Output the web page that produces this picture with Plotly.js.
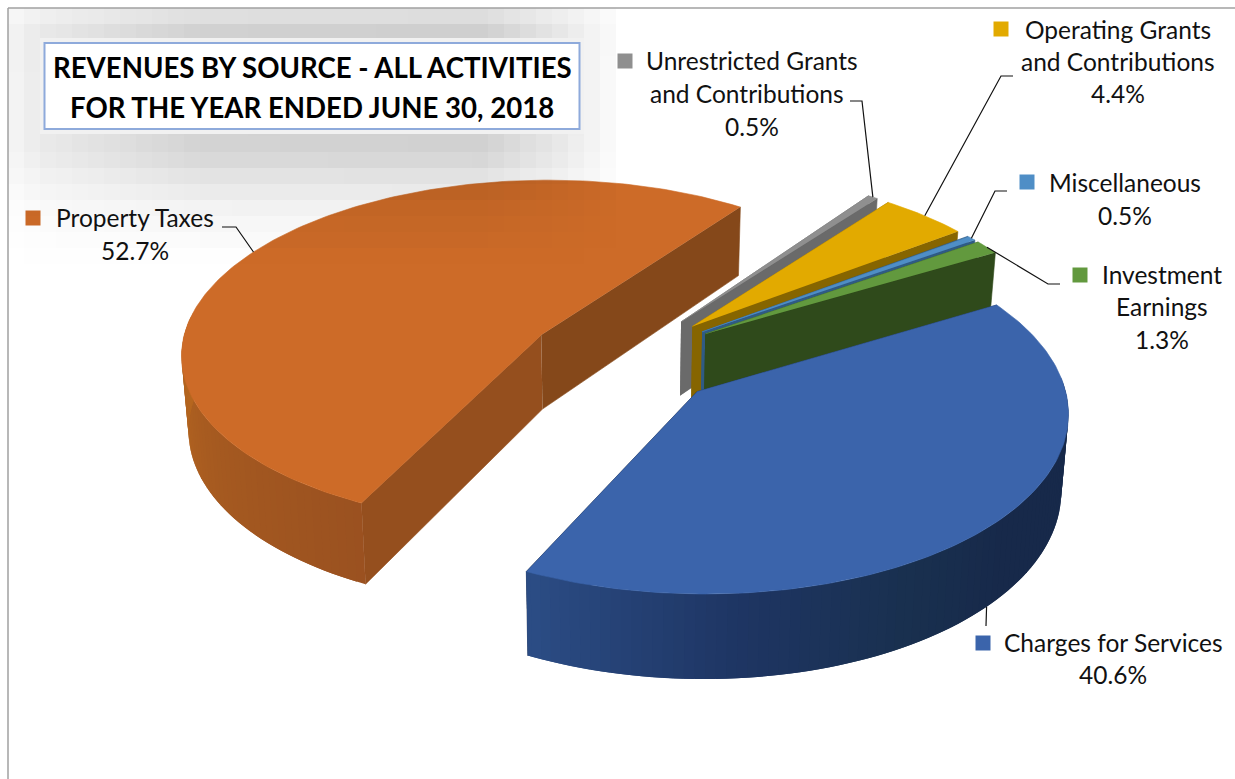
<!DOCTYPE html>
<html>
<head>
<meta charset="utf-8">
<script src="https://cdn.plot.ly/plotly-3.0.1.min.js"></script>
<style>html,body{margin:0;padding:0;background:#fff}#chart{width:1235px;height:779px}</style>
</head>
<body>
<div id="chart"></div>
<script>
// Revenue shares, clockwise from the start of the Property Taxes slice
const categories = ['Property Taxes', 'Unrestricted Grants and Contributions', 'Operating Grants and Contributions',
                    'Miscellaneous', 'Investment Earnings', 'Charges for Services'];
const shares = [52.7, 0.5, 4.4, 0.5, 1.3, 40.6];
const topColors = ['#cd6b28', '#8f8f8f', '#e2aa00', '#4f8ec6', '#62993e', '#3b64ab'];
const wallColors = ['#85481a', '#6a6a6a', '#866500', '#2f5b85', '#2f4a1b', '#17294a'];
const startWallColors = ['#954f1e', '#6a6a6a', '#866500', '#2f5b85', '#2f4a1b', '#17294a'];
// Rim shading stops: [clockwise angle, colour]
const rimShades = [
  [[205, '#9a5120'], [240, '#a65a20'], [270, '#b5661f'], [300, '#b5661f']],
  null, null, null, null,
  [[60, '#17294a'], [130, '#17294a'], [150, '#19304f'], [175, '#1e3563'], [205, '#2b4c84']]
];

// Projection of the tilted disc
const view = {cx: 624, cy: 359, a: 362, b: 175, p: 0.1, explode: 0.27, depth: 75, squeeze: 0.016, midX: 620};
const startAngle = 206;

function project(u, v, lowered) {
  const k = 1 + view.p * v;
  let x = view.cx + view.a * u / k;
  let y = view.cy - view.b * v / k;
  if (lowered) {
    y += view.depth / k;
    x -= (x - view.midX) * view.squeeze;
  }
  return [x, y];
}
const rad = d => d * Math.PI / 180;

function hexToRgb(h) { return [1, 3, 5].map(i => parseInt(h.substr(i, 2), 16)); }
function shadeAt(stops, ang) {
  if (ang <= stops[0][0]) return stops[0][1];
  for (let i = 1; i < stops.length; i++) {
    if (ang <= stops[i][0]) {
      const t = (ang - stops[i-1][0]) / (stops[i][0] - stops[i-1][0]);
      const A = hexToRgb(stops[i-1][1]), B = hexToRgb(stops[i][1]);
      return 'rgb(' + A.map((c, j) => Math.round(c + (B[j] - c) * t)).join(',') + ')';
    }
  }
  return stops[stops.length - 1][1];
}

const traces = [];
function poly(points, color, width) {
  traces.push({
    type: 'scatter', mode: 'lines', fill: 'toself', fillcolor: color,
    x: points.map(p => p[0]), y: points.map(p => p[1]),
    line: {color: color, width: width === undefined ? 0.6 : width}, hoverinfo: 'skip', showlegend: false
  });
}

const anchors = [];
let angle = startAngle;
shares.forEach((share, i) => {
  const span = share / 100 * 360, from = angle, to = angle + span, mid = (from + to) / 2;
  angle = to;
  const ou = view.explode * Math.sin(rad(mid)), ov = view.explode * Math.cos(rad(mid));
  const rim = (deg, low) => project(ou + Math.sin(rad(deg)), ov + Math.cos(rad(deg)), low);
  const apex = low => project(ou, ov, low);

  // the two radial walls
  poly([apex(false), rim(from, false), rim(from, true), apex(true)], startWallColors[i]);
  poly([apex(false), rim(to, false), rim(to, true), apex(true)], wallColors[i]);

  // outer wall: only the viewer-facing arc, in overlapping bands carrying a gradient
  const stops = rimShades[i];
  if (stops) {
    const step = 1.5;
    for (let d = from; d < to - 1e-6; d += step) {
      const a = d % 360;
      if (a < 85 || a > 275) continue;
      const e = Math.min(d + 2 * step, to);
      poly([rim(d, false), rim(e, false), rim(e, true), rim(d, true)], shadeAt(stops, a + step / 2), 0);
    }
  }

  // top face
  const face = [apex(false)];
  for (let d = from; d <= to + 1e-6; d += Math.min(1, span / 8)) face.push(rim(d, false));
  face.push(rim(to, false));
  poly(face, topColors[i]);

  anchors.push({top: rim(mid, false), low: rim(mid, true)});
});

// Label placement: text lines, line centre, key square and leader bends
const labels = [
  {lines: ['Property Taxes', '52.7%'], cx: [135, 135], y: [217, 250], key: [33, 218], bends: [[236, 227], [222, 227]], anchor: 'top'},
  {lines: ['Unrestricted Grants', 'and Contributions', '0.5%'], cx: [752, 747, 752], y: [60, 93, 126], key: [625, 61], bends: [[862, 101], [850, 101]], anchor: 'top'},
  {lines: ['Operating Grants', 'and Contributions', '4.4%'], cx: [1118, 1118, 1118], y: [29, 61, 93], key: [1001, 29], bends: [[1001, 76], [1013, 76]], anchor: 'top'},
  {lines: ['Miscellaneous', '0.5%'], cx: [1125, 1125], y: [182, 215], key: [1027, 182], bends: [[995, 191], [1007, 191]], anchor: 'top'},
  {lines: ['Investment', 'Earnings', '1.3%'], cx: [1162, 1162, 1162], y: [274, 306, 339], key: [1080, 275], bends: [[1048, 284], [1060, 284]], anchor: 'top'},
  {lines: ['Charges for Services', '40.6%'], cx: [1113, 1113], y: [642, 674], key: [983, 643], bends: [[986, 626]], anchor: 'low'}
];

const annotations = [];
labels.forEach((lab, i) => {
  lab.lines.forEach((t, j) => annotations.push({
    x: lab.cx[j], y: lab.y[j], xref: 'x', yref: 'y', text: t, showarrow: false,
    xanchor: 'center', yanchor: 'middle',
    font: {family: 'Lato, Carlito, sans-serif', size: 24.5, color: '#111'}
  }));
  traces.push({
    type: 'scatter', mode: 'markers', x: [lab.key[0]], y: [lab.key[1]],
    marker: {symbol: 'square', size: 15, color: topColors[i]}, hoverinfo: 'skip', showlegend: false
  });
  const start = anchors[i][lab.anchor];
  const path = [start].concat(lab.bends);
  traces.push({
    type: 'scatter', mode: 'lines', x: path.map(p => p[0]), y: path.map(p => p[1]),
    line: {color: '#111', width: 1.2}, hoverinfo: 'skip', showlegend: false
  });
});

['REVENUES BY SOURCE - ALL ACTIVITIES', 'FOR THE YEAR ENDED JUNE 30, 2018'].forEach((t, i) => annotations.push({
  x: 312, y: 67 + i * 40, xref: 'x', yref: 'y', text: '<b>' + t + '</b>', showarrow: false,
  xanchor: 'center', yanchor: 'middle',
  font: {family: 'Lato, Carlito, sans-serif', size: 27.6, color: '#000'}
}));

// Soft grey glow behind the title panel, drawn on an overlaid subplot so it also dims the pie
const gx = [], gy = [], gz = [];
for (let x = 16; x < 640; x += 16) gx.push(x);
for (let y = 16; y < 280; y += 16) gy.push(y);
function ramp(v, pts) {
  if (v <= pts[0][0]) return pts[0][1];
  for (let i = 1; i < pts.length; i++) {
    if (v <= pts[i][0]) {
      return pts[i-1][1] + (pts[i][1] - pts[i-1][1]) * (v - pts[i-1][0]) / (pts[i][0] - pts[i-1][0]);
    }
  }
  return pts[pts.length - 1][1];
}
gy.forEach(y => gz.push(gx.map(x =>
  ramp(x, [[8, 0.2], [40, 0.45], [200, 0.95], [480, 1], [560, 0.5], [610, 0.12], [625, 0]]) *
  ramp(y, [[8, 0.55], [32, 1], [150, 0.95], [180, 0.55], [210, 0.25], [240, 0.1], [262, 0]]) * 0.19
)));
traces.push({
  type: 'heatmap', x: gx, y: gy, z: gz, xaxis: 'x2', yaxis: 'y2', zmin: 0, zmax: 0.19,
  colorscale: [[0, 'rgba(0,0,0,0)'], [1, 'rgba(0,0,0,0.19)']], showscale: false, hoverinfo: 'skip', zsmooth: false
});

const hidden = {visible: false, fixedrange: true};
Plotly.newPlot('chart', traces, {
  width: 1235, height: 779,
  margin: {l: 0, r: 0, t: 0, b: 0},
  paper_bgcolor: '#fff', plot_bgcolor: 'rgba(0,0,0,0)', showlegend: false,
  xaxis: Object.assign({range: [0, 1235]}, hidden),
  yaxis: Object.assign({range: [779, 0]}, hidden),
  xaxis2: Object.assign({range: [0, 1235], overlaying: 'x'}, hidden),
  yaxis2: Object.assign({range: [779, 0], overlaying: 'y'}, hidden),
  annotations: annotations,
  shapes: [
    {type: 'rect', xref: 'x', yref: 'y', x0: 40, x1: 584, y0: 38, y1: 134, layer: 'above', fillcolor: '#f1f1f1', line: {width: 0}},
    {type: 'rect', xref: 'x', yref: 'y', x0: 44.5, x1: 579.5, y0: 43, y1: 129, layer: 'above', fillcolor: '#fff', line: {color: '#8eaadb', width: 2}},
    {type: 'line', xref: 'x', yref: 'y', x0: 8, x1: 1235, y0: 8, y1: 8, layer: 'above', line: {color: '#a0a0a0', width: 1.5}},
    {type: 'line', xref: 'x', yref: 'y', x0: 8, x1: 8, y0: 8, y1: 779, layer: 'above', line: {color: '#a0a0a0', width: 1.5}}
  ]
}, {staticPlot: true, displayModeBar: false});
</script>
</body>
</html>
